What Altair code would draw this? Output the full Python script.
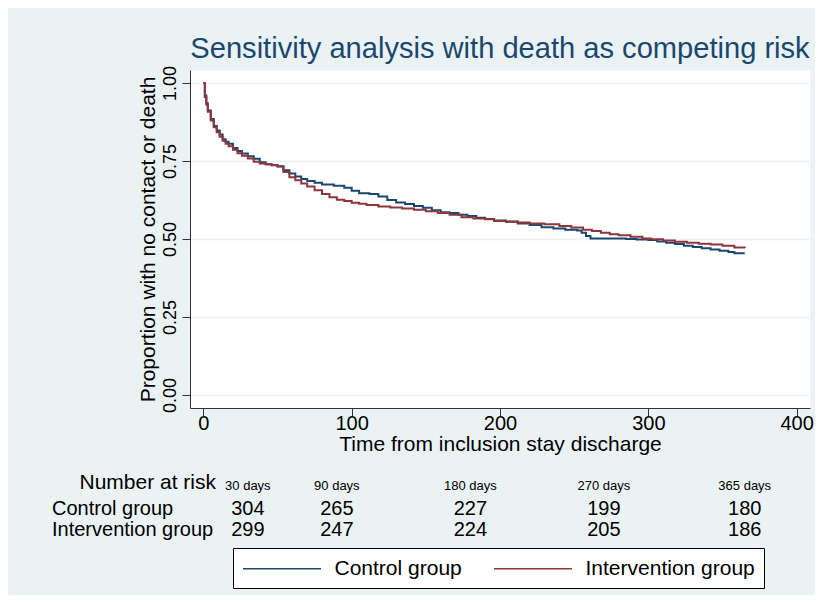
import altair as alt
import pandas as pd

# ---------------- data ----------------
groups = ["Control group", "Intervention group"]
colors = ["#1A476F", "#90353B"]

control_t = [0, 1, 2, 3, 5, 7, 9, 11, 13, 15, 17, 20, 23, 26, 30, 34, 38, 42, 46, 50,
             54, 58, 62, 66, 70, 75, 80, 88, 95, 100, 105, 112, 118, 124, 130, 136, 142,
             148, 154, 160, 166, 172, 178, 184, 190, 196, 204, 212, 220, 228, 236, 244,
             252, 255, 258, 261, 285, 292, 300, 306, 312, 318, 324, 330, 336, 342, 348,
             354, 358, 365]
control_v = [1.000, 0.960, 0.935, 0.912, 0.885, 0.862, 0.848, 0.835, 0.820, 0.812, 0.805,
             0.792, 0.782, 0.774, 0.765, 0.757, 0.746, 0.740, 0.736, 0.732, 0.720, 0.710,
             0.700, 0.692, 0.686, 0.680, 0.675, 0.671, 0.664, 0.655, 0.647, 0.644, 0.636,
             0.625, 0.617, 0.612, 0.606, 0.600, 0.592, 0.586, 0.583, 0.578, 0.574, 0.568,
             0.564, 0.559, 0.555, 0.550, 0.545, 0.538, 0.534, 0.530, 0.527, 0.520, 0.510,
             0.502, 0.500, 0.498, 0.497, 0.492, 0.488, 0.484, 0.478, 0.474, 0.470, 0.466,
             0.462, 0.458, 0.454, 0.454]

interv_t = [0, 1, 2, 3, 5, 7, 9, 11, 13, 15, 17, 20, 23, 26, 30, 34, 38, 42, 46, 50,
            54, 58, 62, 66, 70, 75, 80, 85, 90, 95, 100, 105, 110, 118, 126, 134, 142,
            150, 158, 166, 174, 182, 190, 196, 204, 212, 220, 230, 240, 248, 256, 262,
            268, 274, 280, 288, 296, 302, 310, 318, 326, 334, 342, 350, 358, 365]
interv_v = [1.000, 0.955, 0.930, 0.908, 0.880, 0.858, 0.842, 0.828, 0.815, 0.805, 0.797,
            0.786, 0.775, 0.767, 0.758, 0.748, 0.742, 0.740, 0.737, 0.733, 0.715, 0.698,
            0.688, 0.678, 0.668, 0.656, 0.644, 0.634, 0.626, 0.622, 0.616, 0.613, 0.609,
            0.604, 0.601, 0.598, 0.594, 0.589, 0.583, 0.578, 0.570, 0.566, 0.563, 0.558,
            0.556, 0.553, 0.550, 0.547, 0.542, 0.537, 0.530, 0.526, 0.520, 0.515, 0.512,
            0.507, 0.502, 0.499, 0.495, 0.491, 0.488, 0.485, 0.482, 0.478, 0.473, 0.470]

risk_days = [30, 90, 180, 270, 365]
risk_labels = ["30 days", "90 days", "180 days", "270 days", "365 days"]
risk_control = [304, 265, 227, 199, 180]
risk_intervention = [299, 247, 224, 205, 186]

x_ticks = [0, 100, 200, 300, 400]
y_ticks = [0, 0.25, 0.5, 0.75, 1.0]

# ---------------- tables ----------------
curves = pd.concat([
    pd.DataFrame({"time": control_t, "prop": control_v, "group": groups[0]}),
    pd.DataFrame({"time": interv_t, "prop": interv_v, "group": groups[1]}),
])
risk = pd.DataFrame({"time": risk_days, "label": risk_labels,
                     "control": [str(v) for v in risk_control],
                     "intervention": [str(v) for v in risk_intervention]})

FONT = "Liberation Sans"
XTITLE = "Time from inclusion stay discharge"
xscale = alt.Scale(domain=[-9, 409], nice=False, zero=False)
yscale = alt.Scale(domain=[-0.0417, 1.0417], nice=False, zero=False)

xaxis = alt.Axis(values=x_ticks, title=XTITLE, grid=False, labelFontSize=20,
                 titleFontSize=21, labelPadding=-3, titlePadding=0, tickSize=8,
                 labelFlush=False)

lines = alt.Chart(curves).mark_line(interpolate="step-after", strokeWidth=2).encode(
    x=alt.X("time:Q", scale=xscale, axis=xaxis),
    y=alt.Y("prop:Q", scale=yscale,
            axis=alt.Axis(values=y_ticks, format=".2f",
                          title="Proportion with no contact or death",
                          grid=True, labelFontSize=18, titleFontSize=21,
                          labelAngle=270, labelAlign="center", labelBaseline="bottom",
                          labelPadding=3, titlePadding=3, tickSize=8)),
    color=alt.Color("group:N", scale=alt.Scale(domain=groups, range=colors),
                    legend=alt.Legend(title=None, orient="none", legendX=43, legendY=478,
                                      direction="horizontal",
                                      symbolType="M-3.714,0L3.714,0",
                                      symbolSize=441, symbolOffset=28.5,
                                      symbolStrokeWidth=1.5,
                                      labelFontSize=21, labelFont=FONT, labelColor="black",
                                      labelOffset=41, columnPadding=29, padding=9,
                                      strokeColor="black", fillColor="white",
                                      labelLimit=400)),
)

base_txt = alt.Chart(risk)
days_txt = base_txt.mark_text(fontSize=13, font=FONT, color="black", baseline="middle").encode(
    x=alt.X("time:Q", scale=xscale, axis=xaxis), y=alt.value(416), text="label:N")
ctrl_txt = base_txt.mark_text(fontSize=20, font=FONT, color="black", baseline="middle").encode(
    x=alt.X("time:Q", scale=xscale, axis=xaxis), y=alt.value(439), text="control:N")
int_txt = base_txt.mark_text(fontSize=20, font=FONT, color="black", baseline="middle").encode(
    x=alt.X("time:Q", scale=xscale, axis=xaxis), y=alt.value(460), text="intervention:N")

hdr = alt.Chart(pd.DataFrame({"t": ["Number at risk"]})).mark_text(
    fontSize=21, font=FONT, color="black", align="right", baseline="middle").encode(
    x=alt.value(26), y=alt.value(413), text="t:N")
row1 = alt.Chart(pd.DataFrame({"t": [groups[0]]})).mark_text(
    fontSize=20, font=FONT, color="black", align="left", baseline="middle").encode(
    x=alt.value(-138), y=alt.value(439), text="t:N")
row2 = alt.Chart(pd.DataFrame({"t": [groups[1]]})).mark_text(
    fontSize=20, font=FONT, color="black", align="left", baseline="middle").encode(
    x=alt.value(-138), y=alt.value(460), text="t:N")

chart = alt.layer(lines, days_txt, ctrl_txt, int_txt, hdr, row1, row2).properties(
    width=620, height=338,
    autosize=alt.AutoSizeParams(type="none"),
    padding={"left": 182, "top": 62, "right": 5, "bottom": 187},
    background="#EAF2F3",
    title=alt.Title("Sensitivity analysis with death as competing risk",
                    fontSize=29.1, font=FONT, color="#1A476F", fontWeight="normal",
                    anchor="middle", frame="group", offset=1),
).configure_view(fill="white", stroke="transparent").configure_axis(
    labelFont=FONT, titleFont=FONT, labelColor="black", titleColor="black",
    titleFontWeight="normal", domainColor="#333333", tickColor="#333333",
    domainWidth=1, tickWidth=1, gridColor="#EAF2F3", gridWidth=1.5,
)

chart.save("out.html", embed_options={"renderer": "svg", "actions": False})
